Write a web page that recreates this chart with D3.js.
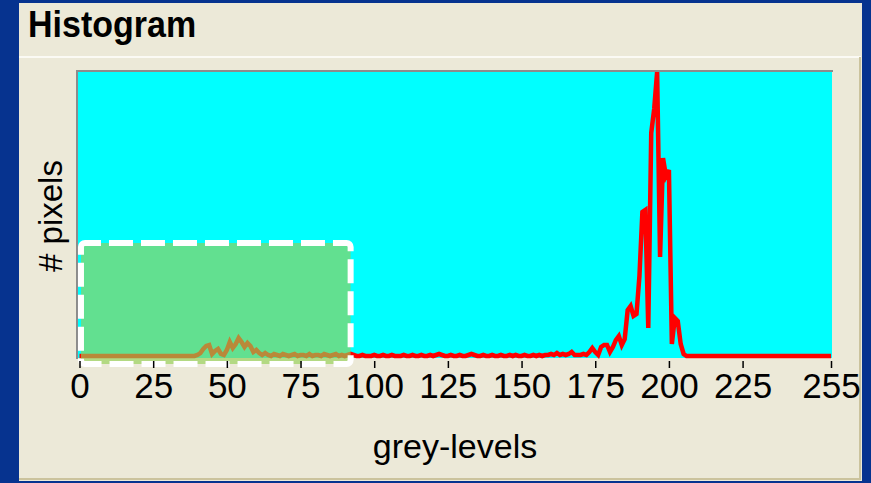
<!DOCTYPE html>
<html>
<head>
<meta charset="utf-8">
<script src="https://cdn.jsdelivr.net/npm/d3@7"></script>
<style>
  html, body { margin: 0; padding: 0; background: #06338f; }
  svg { display: block; }
  text { font-family: "Liberation Sans", Arial, sans-serif; }
</style>
</head>
<body>
<svg id="chart" width="871" height="483"></svg>
<script>
// ---- data ----
const chartTitle = "Histogram";
const xTitle = "grey-levels";
const yTitle = "# pixels";
const tickLabels = [0, 25, 50, 75, 100, 125, 150, 175, 200, 225, 255];
// pixel counts per grey level 0..255 (arbitrary units)
const counts = [
  0,0,0,0,0,0,0,0,0,0,0,0,0,0,0,0,
  0,0,0,0,0,0,0,0,0,0,0,0,0,0,0,0,
  0,0,0,0,0,0,0,0,5,15,35,50,55,10,25,35,
  10,5,30,70,40,60,90,70,45,65,50,20,30,15,5,15,
  5,0,10,5,0,10,5,0,5,10,0,5,5,0,10,0,
  5,5,0,10,5,0,5,10,0,5,0,5,10,5,0,0,
  5,0,0,0,5,0,0,5,0,0,5,0,0,0,5,0,
  0,5,0,0,5,0,0,5,0,5,10,5,0,0,5,0,
  0,5,0,0,5,10,5,0,0,5,0,0,5,0,0,5,
  0,0,5,0,5,0,0,5,0,0,5,0,5,0,5,5,
  10,5,15,5,10,5,10,20,5,5,5,10,5,20,40,20,
  5,45,55,55,20,45,80,100,55,85,230,250,200,210,400,720,
  730,140,1115,1235,1420,495,990,900,930,60,190,175,60,10,0,0,
  0,0,0,0,0,0,0,0,0,0,0,0,0,0,0,0,
  0,0,0,0,0,0,0,0,0,0,0,0,0,0,0,0,
  0,0,0,0,0,0,0,0,0,0,0,0,0,0,0,0
];
const greyLevels = counts.map((d, i) => i);
// selected (highlighted) range: grey levels and count extent
const selectionX = [0.5, 92];
const selectionY = [-40, 565];

// ---- drawing ----
const svg = d3.select("#chart");
const W = 871, H = 483;

// outer blue background
svg.append("rect").attr("x", 0).attr("y", 0).attr("width", W).attr("height", H).attr("fill", "#06338f");
// beige window panel
svg.append("rect").attr("x", 19).attr("y", 3).attr("width", 843).attr("height", 478).attr("fill", "#ece9d8");
// separator line under title
svg.append("line").attr("x1", 19).attr("x2", 861).attr("y1", 57).attr("y2", 57)
  .attr("stroke", "#fbfaf4").attr("stroke-width", 2);
// inner panel border (right/bottom)
svg.append("line").attr("x1", 860).attr("x2", 860).attr("y1", 57).attr("y2", 479)
  .attr("stroke", "#cbc39d").attr("stroke-width", 2);
svg.append("line").attr("x1", 19).attr("x2", 861).attr("y1", 479).attr("y2", 479)
  .attr("stroke", "#cbc39d").attr("stroke-width", 2);

// title
svg.append("text").attr("transform", "translate(28,37) scale(1,1.1)")
  .attr("font-size", 34).attr("font-weight", "bold").attr("fill", "#000")
  .text(chartTitle);

const x = d3.scaleLinear().domain([0, 255]).range([79.5, 831]);
const y = d3.scaleLinear().domain([0, d3.max(counts)]).range([356, 72]);

// plot background
const plotL = 78, plotR = 832, plotT = 72, plotB = 358;
svg.append("rect").attr("x", plotL).attr("y", plotT).attr("width", plotR - plotL).attr("height", plotB - plotT)
  .attr("fill", "#00ffff");
svg.append("path").attr("d", `M${plotL - 1},${plotB + 1}V${plotT - 1}H${plotR + 1}`)
  .attr("fill", "none").attr("stroke", "#8c8c8c").attr("stroke-width", 2);

svg.append("clipPath").attr("id", "clip")
  .append("rect").attr("x", plotL - 2).attr("y", plotT).attr("width", plotR - plotL + 4).attr("height", plotB - plotT + 2);

// histogram line
const line = d3.line().x((d, i) => x(greyLevels[i])).y(d => y(d));
svg.append("path").datum(counts)
  .attr("clip-path", "url(#clip)")
  .attr("d", line)
  .attr("fill", "none").attr("stroke", "#ff0000").attr("stroke-width", 4.5)
  .attr("stroke-linejoin", "miter");

// highlighted selection box
const bx0 = x(selectionX[0]), bx1 = x(selectionX[1]);
const by0 = y(selectionY[1]), by1 = y(selectionY[0]);
svg.append("rect").attr("x", bx0).attr("y", by0).attr("width", bx1 - bx0).attr("height", by1 - by0)
  .attr("fill", "rgb(148,208,86)").attr("fill-opacity", 0.66);
svg.append("rect").attr("x", bx0).attr("y", by0).attr("width", bx1 - bx0).attr("height", by1 - by0)
  .attr("rx", 4).attr("ry", 4)
  .attr("fill", "none").attr("stroke", "#ffffff").attr("stroke-width", 6)
  .attr("stroke-dasharray", "24,8").attr("stroke-dashoffset", 8);

// x axis
const xAxis = d3.axisBottom(x).tickValues(tickLabels).tickSize(7).tickPadding(5).tickFormat(d3.format("d"));
const gx = svg.append("g").attr("transform", "translate(0,361)").call(xAxis);
gx.select(".domain").remove();
gx.selectAll(".tick line").attr("stroke", "#000").attr("stroke-width", 1.5);
gx.selectAll(".tick text").attr("font-size", 35).attr("fill", "#000")
  .attr("font-family", "'Liberation Sans', Arial, sans-serif");

// axis titles
svg.append("text").attr("x", 455).attr("y", 458).attr("text-anchor", "middle")
  .attr("font-size", 34).attr("fill", "#000").text(xTitle);
svg.append("text").attr("transform", "translate(62,216) rotate(-90)").attr("text-anchor", "middle")
  .attr("font-size", 33).attr("fill", "#000").text(yTitle);
</script>
</body>
</html>
